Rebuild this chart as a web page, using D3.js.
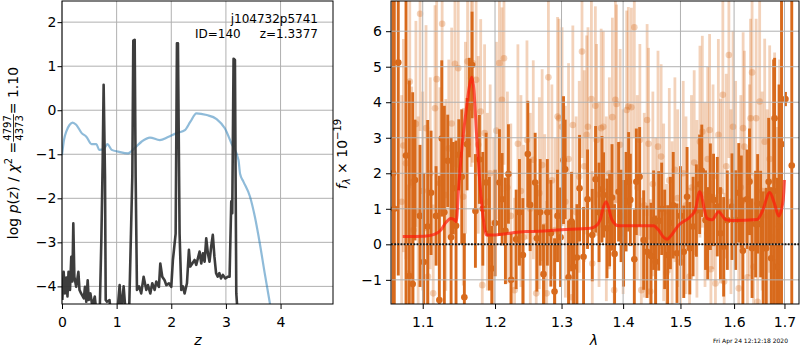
<!DOCTYPE html>
<html><head><meta charset="utf-8">
<script src="https://cdn.jsdelivr.net/npm/d3@7"></script>
<style>body{margin:0;background:#fff}svg{display:block}text{font-family:"DejaVu Sans",sans-serif}</style>
</head><body><svg id="c" width="800" height="350"></svg>
<script>
// ---------- Left panel data: p(z) ----------
const zTicks = [0, 1, 2, 3, 4];
const logpTicks = [-4, -3, -2, -1, 0, 1, 2];
const blueZ = [0.0, 0.037, 0.08, 0.14, 0.195, 0.26, 0.36, 0.445, 0.54, 0.63, 0.68, 0.76, 0.83, 0.91, 1.03, 1.21, 1.33, 1.46, 1.61, 1.79, 1.94, 2.10, 2.25, 2.35, 2.46, 2.65, 2.83, 2.98, 3.10, 3.23, 3.26, 3.32, 3.44, 3.53, 3.62, 3.71, 3.80, 3.90];
const blueLogp = [-1.02, -0.67, -0.48, -0.33, -0.28, -0.33, -0.52, -0.60, -0.77, -0.77, -0.90, -0.89, -0.77, -0.90, -0.94, -0.98, -0.86, -0.71, -0.62, -0.68, -0.61, -0.52, -0.45, -0.26, -0.07, -0.11, -0.20, -0.41, -0.75, -1.13, -1.45, -1.62, -1.96, -2.42, -3.02, -3.70, -4.35, -5.0];
const blackZ = [0.006,0.03,0.055,0.08,0.10,0.12,0.146,0.17,0.19,0.207,0.226,0.26,0.30,0.32,0.35,0.40,0.42,0.445,0.47,0.49,0.52,0.555,0.60,0.63,0.69,0.72,0.744,0.762,0.787,0.80,0.823,0.87,0.90,1.006,1.055,1.085,1.128,1.165,1.226,1.287,1.305,1.33,1.348,1.372,1.41,1.45,1.494,1.543,1.573,1.616,1.652,1.695,1.726,1.774,1.799,1.835,1.878,1.909,1.957,2.0,2.03,2.08,2.104,2.122,2.152,2.183,2.213,2.244,2.287,2.323,2.348,2.384,2.427,2.457,2.494,2.518,2.549,2.579,2.61,2.64,2.67,2.70,2.73,2.76,2.79,2.82,2.85,2.88,2.91,2.945,2.99,3.037,3.067,3.098,3.116,3.14,3.165,3.19,3.22,3.30];
const blackLogp = [-4.31,-3.67,-4.16,-3.80,-4.23,-3.67,-4.08,-3.33,-3.89,-2.57,-3.78,-4.01,-3.67,-4.08,-4.16,-4.27,-4.01,-4.35,-3.86,-4.31,-4.16,-4.45,-4.23,-4.6,-4.6,-2.95,-1.2,0.58,-1.5,-4.31,-4.35,-4.31,-4.7,-4.7,-3.97,-4.6,-4.0,-4.6,-4.7,-1.5,1.58,1.60,-1.5,-4.08,-4.0,-4.16,-3.78,-4.08,-3.97,-4.16,-3.93,-4.08,-3.89,-4.01,-3.48,-3.78,-3.86,-3.97,-3.93,-4.01,-3.40,-2.8,1.52,1.52,-2.8,-4.08,-4.0,-4.16,-3.93,-3.17,-3.55,-3.48,-3.40,-3.51,-3.33,-3.21,-3.48,-3.25,-3.44,-2.91,-3.25,-3.44,-3.10,-2.83,-3.33,-3.70,-3.78,-3.70,-3.82,-3.74,-3.82,-3.78,-3.78,-2.07,-2.34,1.17,1.14,-4.16,-4.7,-6.0];

// ---------- Right panel data: spectrum ----------
const lamTicks = [1.1, 1.2, 1.3, 1.4, 1.5, 1.6, 1.7];
const fluxTicks = [-1, 0, 1, 2, 3, 4, 5, 6];
const darkLam = [1.0615,1.0630,1.0681,1.0781,1.0824,1.0868,1.0898,1.0964,1.1013,1.1066,1.1111,1.1178,1.1222,1.1255,1.1290,1.1336,1.1382,1.1413,1.1450,1.1488,1.1529,1.1565,1.1603,1.1635,1.1673,1.1720,1.1776,1.1825,1.1872,1.1919,1.1953,1.2001,1.2064,1.2103,1.2151,1.2195,1.2235,1.2309,1.2358,1.2409,1.2483,1.2518,1.2594,1.2620,1.2670,1.2721,1.2780,1.2834,1.2891,1.2937,1.2985,1.3031,1.3057,1.3110,1.3157,1.3189,1.3243,1.3285,1.3349,1.3413,1.3490,1.3544,1.3600,1.3648,1.3675,1.3731,1.3774,1.3814,1.3857,1.3924,1.3965,1.4008,1.4050,1.4093,1.4122,1.4190,1.4224,1.4281,1.4350,1.4409,1.4478,1.4523,1.4558,1.4612,1.4665,1.4718,1.4770,1.4820,1.4870,1.4938,1.5000,1.5060,1.5120,1.5170,1.5230,1.5290,1.5350,1.5390,1.5460,1.5500,1.5550,1.5610,1.5680,1.5740,1.5800,1.5870,1.5960,1.6030,1.6090,1.6140,1.6170,1.6250,1.6300,1.6350,1.6420,1.6460,1.6520,1.6570,1.6630,1.6680,1.6730,1.6780,1.6800,1.6840,1.6890,1.6940,1.7020,1.7150];
const darkFlux = [2.0,1.0,5.12,2.5,-0.89,-1.12,1.81,0.80,-0.5,0.5,1.45,0.80,-1.57,2.98,0.9,2.35,0.2,1.58,0.52,2.52,1.90,-1.49,2.82,3.85,5.05,0.94,2.39,1.0,1.74,0.3,-0.68,0.6,1.74,1.27,0.38,1.98,-1.0,0.14,0.9,-0.3,2.54,1.11,1.74,0.17,0.9,-0.84,0.9,0.31,-1.33,0.80,0.2,2.37,2.11,-0.93,0.64,-0.63,-0.37,1.58,-0.35,1.27,0.26,1.83,0.9,1.55,1.39,0.45,0.68,1.32,-0.27,1.48,0.8,0.31,1.2,1.76,1.25,-0.42,1.76,1.90,0.12,-0.21,-0.33,0.68,-0.49,0.66,1.0,0.14,-0.3,0.6,1.1,-0.25,0.8,-0.21,1.34,-0.11,0.50,0.95,1.69,2.07,0.68,0.31,1.34,1.25,1.06,0.31,-0.07,0.68,1.06,0.68,1.45,1.20,-0.18,1.27,1.76,-0.11,0.57,1.14,0.57,-0.11,-0.11,1.76,-0.39,1.5,3.55,-0.63,0.5,2.82,4.09,2.22];
const darkErr = [12,12,6.0,6.0,5.5,5.4,1.7,2.0,2.5,3.0,1.75,1.4,3.5,2.2,3.0,1.3,2.8,1.3,2.4,1.0,1.9,1.8,1.3,1.4,1.5,1.6,1.25,1.6,1.4,1.6,1.2,1.5,1.5,1.3,1.5,1.4,1.3,1.4,1.5,1.6,1.5,1.3,1.4,1.5,1.5,1.4,1.5,1.5,1.5,1.3,1.4,1.8,1.4,1.6,1.4,1.3,1.5,1.5,1.4,1.4,1.3,1.5,1.4,1.5,1.2,1.4,1.3,1.5,1.4,1.4,1.3,1.5,1.4,1.4,1.3,1.4,1.5,1.4,1.4,1.3,1.5,1.4,1.3,1.4,1.3,1.4,1.4,1.3,1.5,1.4,1.4,1.3,1.4,1.3,1.4,1.3,1.4,1.3,1.4,1.3,1.5,1.3,1.4,1.3,1.4,1.4,1.5,1.4,1.4,1.3,1.5,1.4,1.5,1.4,1.5,1.4,1.5,1.6,1.7,1.8,2.0,3.7,1.7,2.5,4.0,10,0.2,10];
const lightLam = [1.0725,1.0747,1.0780,1.0810,1.0830,1.0855,1.0880,1.0910,1.0940,1.0965,1.1000,1.1044,1.1070,1.1100,1.1140,1.1164,1.1186,1.1230,1.1260,1.1310,1.1350,1.1390,1.1435,1.1480,1.1550,1.1580,1.1610,1.1660,1.1680,1.1730,1.1760,1.1795,1.1817,1.1850,1.1890,1.1930,1.1980,1.2020,1.2063,1.2100,1.2130,1.2180,1.2230,1.2286,1.2335,1.2380,1.2420,1.2470,1.2520,1.2565,1.2610,1.2657,1.2700,1.2740,1.2770,1.2796,1.2850,1.2900,1.2938,1.2960,1.3008,1.3060,1.3110,1.3160,1.3178,1.3230,1.3280,1.3324,1.3360,1.3399,1.3420,1.3476,1.3490,1.3540,1.3560,1.3600,1.3635,1.3670,1.3720,1.3770,1.3820,1.3850,1.3870,1.3890,1.3950,1.4000,1.4060,1.4088,1.4140,1.4190,1.4240,1.4285,1.4310,1.4360,1.4410,1.4435,1.4465,1.4510,1.4560,1.4600,1.4655,1.4700,1.4750,1.4800,1.4850,1.4900,1.4950,1.5000,1.5050,1.5100,1.5165,1.5200,1.5250,1.5300,1.5356,1.5400,1.5450,1.5500,1.5535,1.5560,1.5600,1.5645,1.5700,1.5740,1.5785,1.5810,1.5850,1.5900,1.5940,1.5980,1.6030,1.6090,1.6130,1.6175,1.6200,1.6260,1.6300,1.6320,1.6350,1.6380,1.6430,1.6460,1.6500,1.6550,1.6600,1.6650,1.6700,1.6750,1.6800,1.6850,1.6900];
const lightFlux = [1.2,2.78,2.28,-0.82,4.58,1.74,0.4,3.39,0.9,6.49,1.5,3.27,-0.91,2.0,-1.38,3.83,4.65,1.72,6.21,1.39,2.7,3.4,5.08,4.96,1.34,3.0,5.15,4.68,5.10,4.63,2.8,3.74,-1.15,3.13,1.2,2.0,0.6,3.2,5.10,4.07,5.24,1.6,0.8,-1.29,2.83,1.5,0.2,2.94,1.0,2.38,-1.38,1.44,2.23,0.5,-1.38,4.70,1.8,0.4,3.60,3.55,3.31,1.2,2.4,-1.49,3.36,0.9,1.9,5.43,2.2,3.08,3.31,4.09,-0.54,3.90,2.94,1.4,3.27,3.31,1.0,2.0,3.58,-1.29,4.07,3.95,2.80,1.2,3.78,3.88,3.86,6.11,1.6,2.94,-1.29,1.1,3.50,2.83,-1.33,1.7,0.5,2.75,2.47,0.9,-0.8,1.8,0.4,2.1,1.3,-0.5,2.0,1.1,-0.91,1.6,2.3,1.0,2.89,3.17,1.4,2.4,3.22,-0.70,1.9,-1.10,3.08,1.5,4.21,-1.05,2.2,5.33,1.2,3.31,2.0,-1.24,1.6,3.27,2.75,-0.93,1.8,3.55,4.84,-0.63,3.55,-1.62,4.02,1.5,2.89,0.8,2.4,0.2,1.8,-0.5,1.2];
const lightErr = [3.0,3.0,2.7,2.5,3.0,2.7,2.5,2.9,2.7,3.3,2.8,2.9,2.5,2.7,2.5,2.9,3.0,2.7,3.1,2.7,2.5,2.7,2.9,2.8,2.5,2.7,2.7,2.5,2.8,2.7,2.5,2.6,2.5,2.5,2.5,2.5,2.4,2.5,2.8,2.6,3.0,2.7,2.6,2.6,2.8,2.7,2.6,2.8,2.7,2.8,2.6,2.7,2.7,2.6,2.6,3.0,2.7,2.6,2.8,2.8,2.8,2.7,2.7,2.6,2.8,2.7,2.7,3.0,2.7,2.8,2.8,2.9,2.6,2.8,2.7,2.6,2.8,2.7,2.6,2.7,2.8,2.6,2.9,2.8,2.7,2.6,2.8,2.8,2.8,3.1,2.6,2.7,2.6,2.6,2.7,2.7,2.6,2.6,2.5,2.7,2.6,2.5,2.5,2.6,2.5,2.6,2.5,2.5,2.6,2.5,2.5,2.6,2.6,2.5,2.7,2.7,2.6,2.6,2.7,2.5,2.6,2.5,2.7,2.6,2.8,2.5,2.6,2.9,2.6,2.7,2.6,2.5,2.6,2.7,2.7,2.6,2.7,2.8,2.9,2.6,2.8,2.7,2.9,2.8,2.9,3.0,3.2,3.4,3.6,3.8,4.0];
const modelLam = [1.0739,1.1021,1.1155,1.1243,1.1310,1.1376,1.1421,1.1453,1.1487,1.1533,1.1591,1.1635,1.1668,1.1699,1.1735,1.1780,1.1834,1.1879,1.1961,1.2464,1.2518,1.3000,1.3456,1.3538,1.3619,1.3674,1.3718,1.3813,1.3923,1.4523,1.4611,1.4699,1.4760,1.4818,1.4967,1.5180,1.5272,1.5351,1.5488,1.5582,1.5706,1.5833,1.5962,1.6450,1.6550,1.6702,1.6796,1.6883,1.6974,1.7000];
const modelFlux = [0.22,0.23,0.28,0.40,0.61,0.73,0.70,0.64,1.62,2.75,3.78,4.44,4.70,4.35,3.13,1.81,0.69,0.26,0.26,0.36,0.36,0.41,0.45,0.50,0.69,1.06,1.20,0.69,0.52,0.52,0.40,0.20,0.14,0.22,0.54,0.78,0.97,1.48,0.73,0.69,0.92,0.70,0.67,0.70,0.92,1.46,1.15,0.80,1.25,1.81];

// ---------- drawing ----------
const svg = d3.select("#c");
const L = {x0: 62, x1: 333, y0: 1, y1: 304};
const R = {x0: 391, x1: 799, y0: 1, y1: 304};
const xl = d3.scaleLinear().domain([0, 4.96]).range([L.x0, L.x1]);
const yl = d3.scaleLinear().domain([-4.40, 2.48]).range([L.y1, L.y0]);
const xr = d3.scaleLog().domain([1.0588, 1.730]).range([R.x0, R.x1]);
const yr = d3.scaleLinear().domain([-1.68, 6.85]).range([R.y1, R.y0]);
const GRID = "#b0b0b0";
const FONT = "DejaVu Sans";
const minus = v => (v < 0 ? "\u2212" : "") + Math.abs(v);
const DARK = "#d86a1c";

const defs = svg.append("defs");
defs.append("clipPath").attr("id", "clipL").append("rect")
  .attr("x", L.x0).attr("y", L.y0).attr("width", L.x1 - L.x0).attr("height", L.y1 - L.y0);
defs.append("clipPath").attr("id", "clipR").append("rect")
  .attr("x", R.x0).attr("y", R.y0).attr("width", R.x1 - R.x0).attr("height", R.y1 - R.y0);

function grid(g, P, xs, ys, xt, yt) {
  g.selectAll(null).data(xt).join("line")
    .attr("x1", d => xs(d)).attr("x2", d => xs(d)).attr("y1", P.y0).attr("y2", P.y1)
    .attr("stroke", GRID).attr("stroke-width", 1);
  g.selectAll(null).data(yt).join("line")
    .attr("y1", d => ys(d)).attr("y2", d => ys(d)).attr("x1", P.x0).attr("x2", P.x1)
    .attr("stroke", GRID).attr("stroke-width", 1);
}
function styleAxis(g) {
  g.select(".domain").remove();
  g.attr("font-size", 14).attr("font-family", FONT);
  g.selectAll("text").attr("fill", "#000");
  g.selectAll("line").attr("stroke", "#000");
}

// Left panel
const gl = svg.append("g");
grid(gl.append("g"), L, xl, yl, zTicks, logpTicks);
const cl = gl.append("g").attr("clip-path", "url(#clipL)");
cl.append("path").datum(d3.range(blueZ.length))
  .attr("d", d3.line().x(i => xl(blueZ[i])).y(i => yl(blueLogp[i])).curve(d3.curveMonotoneX))
  .attr("fill", "none").attr("stroke", "#1f77b4").attr("stroke-opacity", 0.5).attr("stroke-width", 2.2);
cl.append("path").datum(d3.range(blackZ.length))
  .attr("d", d3.line().x(i => xl(blackZ[i])).y(i => yl(blackLogp[i])))
  .attr("fill", "none").attr("stroke", "#333").attr("stroke-opacity", 0.95).attr("stroke-width", 2.6).attr("stroke-linejoin", "round");
gl.append("rect").attr("x", L.x0).attr("y", L.y0).attr("width", L.x1 - L.x0).attr("height", L.y1 - L.y0)
  .attr("fill", "none").attr("stroke", "#000").attr("stroke-width", 1);
gl.append("g").attr("transform", `translate(0,${L.y1})`)
  .call(d3.axisBottom(xl).tickValues(zTicks).tickSize(5).tickPadding(8).tickFormat(minus)).call(styleAxis);
gl.append("g").attr("transform", `translate(${L.x0},0)`)
  .call(d3.axisLeft(yl).tickValues(logpTicks).tickSize(4.5).tickPadding(1).tickFormat(minus)).call(styleAxis);

gl.append("text").attr("x", 318).attr("y", 23).attr("text-anchor", "end").attr("font-size", 12).text("j104732p5741");
gl.append("text").attr("x", 195).attr("y", 38).attr("font-size", 12).text("ID=140");
gl.append("text").attr("x", 318).attr("y", 38).attr("text-anchor", "end").attr("font-size", 12).text("z=1.3377");
gl.append("text").attr("x", 198).attr("y", 345).attr("text-anchor", "middle").attr("font-size", 14).attr("font-style", "italic").text("z");

// left y label
const yg = svg.append("g").attr("transform", "translate(18,153) rotate(-90)").attr("font-size", 14);
const t1 = yg.append("text");
t1.append("tspan").text("log ");
t1.append("tspan").attr("font-style", "italic").text("p");
t1.append("tspan").text("(");
t1.append("tspan").attr("font-style", "italic").text("z");
t1.append("tspan").text(") / ");
t1.append("tspan").attr("font-style", "italic").text("\u03c7");
t1.append("tspan").attr("font-size", 10).attr("dy", -6).text("2");
t1.append("tspan").attr("dy", 6).text(" = ");
const num = yg.append("text").attr("font-size", 10).attr("text-anchor", "middle").text("4797");
const den = yg.append("text").attr("font-size", 10).attr("text-anchor", "middle").text("4373");
const t3 = yg.append("text").text(" = 1.10");
const w1 = t1.node().getComputedTextLength();
const wf = Math.max(num.node().getComputedTextLength(), den.node().getComputedTextLength()) + 2;
const w3 = t3.node().getComputedTextLength();
const x0 = -(w1 + wf + w3) / 2;
t1.attr("x", x0);
num.attr("x", x0 + w1 + wf / 2).attr("y", -7);
den.attr("x", x0 + w1 + wf / 2).attr("y", 5);
yg.append("line").attr("x1", x0 + w1).attr("x2", x0 + w1 + wf).attr("y1", -4.5).attr("y2", -4.5)
  .attr("stroke", "#000").attr("stroke-width", 0.8);
t3.attr("x", x0 + w1 + wf);

// Right panel
const gr = svg.append("g");
const cr = gr.append("g").attr("clip-path", "url(#clipR)");
const lightIdx = d3.range(lightLam.length);
const darkIdx = d3.range(darkLam.length);
const lg = cr.append("g");
lg.selectAll("line").data(lightIdx).join("line")
  .attr("x1", i => xr(lightLam[i])).attr("x2", i => xr(lightLam[i]))
  .attr("y1", i => yr(lightFlux[i] - lightErr[i])).attr("y2", i => yr(lightFlux[i] + lightErr[i]))
  .attr("stroke", DARK).attr("stroke-opacity", 0.3).attr("stroke-width", 2.8);
lg.selectAll("circle").data(lightIdx).join("circle")
  .attr("cx", i => xr(lightLam[i])).attr("cy", i => yr(lightFlux[i])).attr("r", 3.3)
  .attr("fill", DARK).attr("fill-opacity", 0.3);
const dg = cr.append("g");
dg.selectAll("line").data(darkIdx).join("line")
  .attr("x1", i => xr(darkLam[i])).attr("x2", i => xr(darkLam[i]))
  .attr("y1", i => yr(darkFlux[i] - darkErr[i])).attr("y2", i => yr(darkFlux[i] + darkErr[i]))
  .attr("stroke", DARK).attr("stroke-width", 2.9);
dg.selectAll("circle").data(darkIdx).join("circle")
  .attr("cx", i => xr(darkLam[i])).attr("cy", i => yr(darkFlux[i])).attr("r", 3.3).attr("fill", DARK);
grid(cr.append("g"), R, xr, yr, lamTicks, fluxTicks);
cr.append("path").datum(d3.range(modelLam.length))
  .attr("d", d3.line().x(i => xr(modelLam[i])).y(i => yr(modelFlux[i])).curve(d3.curveMonotoneX))
  .attr("fill", "none").attr("stroke", "#ff1a0a").attr("stroke-opacity", 0.7).attr("stroke-width", 3).attr("stroke-linejoin", "round");
cr.append("line").attr("x1", R.x0).attr("x2", R.x1).attr("y1", yr(0)).attr("y2", yr(0))
  .attr("stroke", "#111").attr("stroke-width", 2).attr("stroke-dasharray", "1.8,1.4");
gr.append("rect").attr("x", R.x0).attr("y", R.y0).attr("width", R.x1 - R.x0).attr("height", R.y1 - R.y0)
  .attr("fill", "none").attr("stroke", "#000").attr("stroke-width", 1);
gr.append("g").attr("transform", `translate(0,${R.y1})`)
  .call(d3.axisBottom(xr).tickValues(lamTicks).tickSize(5).tickPadding(8).tickFormat(d3.format(".1f"))).call(styleAxis);
gr.append("g").attr("transform", `translate(${R.x0},0)`)
  .call(d3.axisLeft(yr).tickValues(fluxTicks).tickSize(5).tickPadding(4).tickFormat(minus)).call(styleAxis);
gr.append("text").attr("x", 594).attr("y", 345).attr("text-anchor", "middle").attr("font-size", 14).attr("font-style", "italic").text("\u03bb");

// right y label
const ry = svg.append("g").attr("transform", "translate(347,154) rotate(-90)").append("text")
  .attr("text-anchor", "middle").attr("font-size", 14);
ry.append("tspan").attr("font-style", "italic").text("f");
ry.append("tspan").attr("font-style", "italic").attr("font-size", 10).attr("dy", 3).text("\u03bb");
ry.append("tspan").attr("dy", -3).text(" \u00d7 10");
ry.append("tspan").attr("font-size", 10).attr("dy", -6).text("\u221219");

// timestamp
svg.append("text").attr("x", 788).attr("y", 343).attr("text-anchor", "end").attr("font-size", 6).text("Fri Apr 24 12:12:18 2020");
</script></body></html>
